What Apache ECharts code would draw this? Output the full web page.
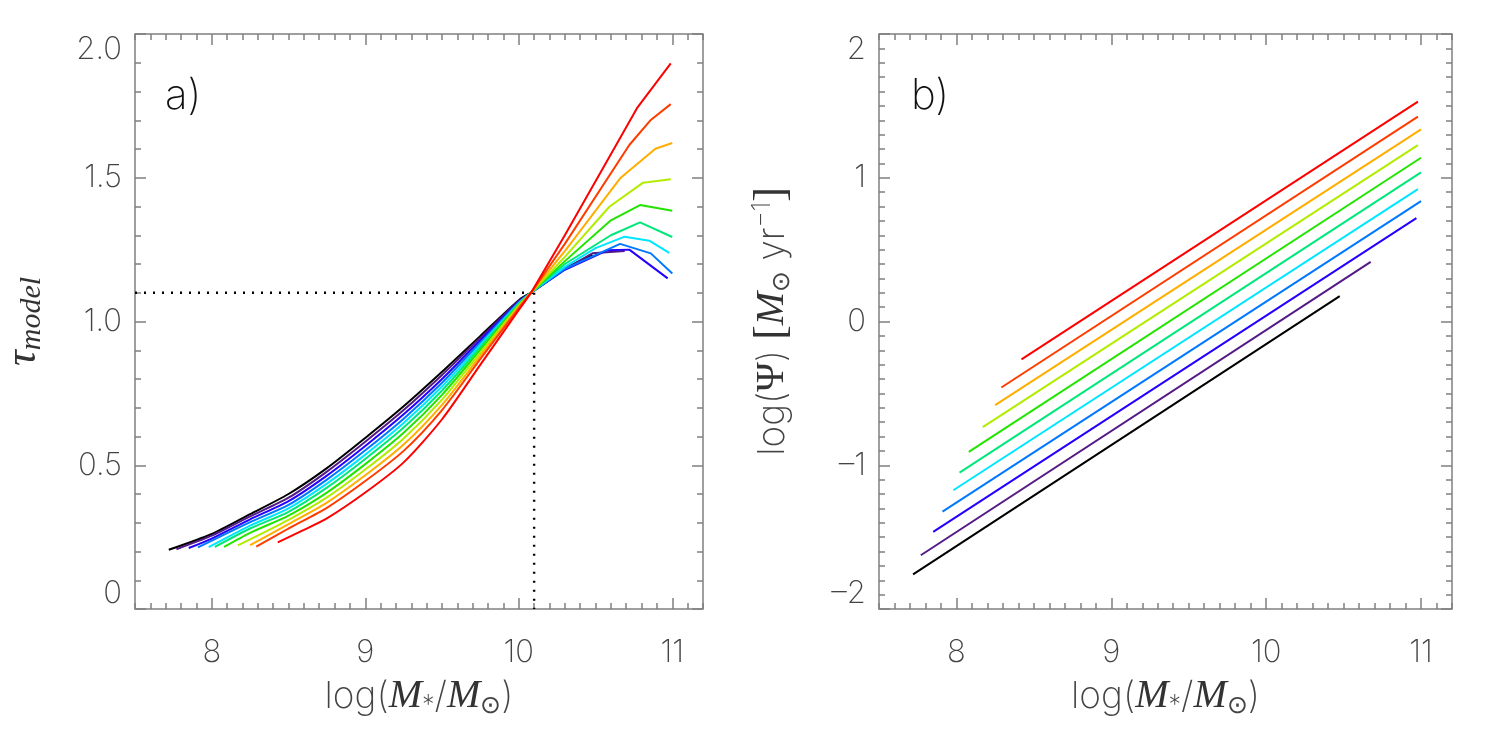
<!DOCTYPE html>
<html>
<head>
<meta charset="utf-8">
<script src="https://cdn.jsdelivr.net/npm/echarts@6/dist/echarts.min.js"></script>
<style>
  html, body { margin: 0; padding: 0; background: #fff; }
  #chart { width: 1495px; height: 747px; }
</style>
</head>
<body>
<div id="chart"></div>
<script>
// --- panel a: tau_model vs log(M*/Msun), one curve per model ---
var tauBlack = [[7.72,0.206],[8.0,0.261],[8.25,0.33],[8.5,0.40],[8.75,0.49],[9.0,0.595],[9.25,0.705],[9.5,0.825],[9.75,0.95],[10.0,1.074],[10.08,1.10],[10.3,1.185],[10.48,1.232]];
var tauPurple = [[7.77,0.208],[8.0,0.255],[8.25,0.322],[8.5,0.387],[8.75,0.478],[9.0,0.582],[9.25,0.692],[9.5,0.814],[9.75,0.943],[10.0,1.072],[10.08,1.10],[10.3,1.182],[10.48,1.237],[10.69,1.245]];
var tauBlue = [[7.85,0.212],[8.0,0.245],[8.25,0.312],[8.5,0.375],[8.75,0.464],[9.0,0.567],[9.25,0.677],[9.5,0.80],[9.75,0.935],[10.0,1.069],[10.08,1.10],[10.3,1.18],[10.58,1.248],[10.72,1.25],[10.97,1.15]];
var tauDodger = [[7.91,0.214],[8.25,0.302],[8.5,0.362],[8.75,0.45],[9.0,0.552],[9.25,0.662],[9.5,0.787],[9.75,0.927],[10.0,1.066],[10.08,1.10],[10.3,1.183],[10.66,1.27],[10.86,1.237],[11.0,1.167]];
var tauCyan = [[7.98,0.215],[8.25,0.29],[8.5,0.35],[8.75,0.436],[9.0,0.537],[9.25,0.647],[9.5,0.774],[9.75,0.919],[10.0,1.064],[10.08,1.10],[10.3,1.19],[10.5,1.255],[10.69,1.295],[10.85,1.281],[10.98,1.239]];
var tauSpring = [[8.02,0.216],[8.25,0.28],[8.5,0.338],[8.75,0.422],[9.0,0.522],[9.25,0.631],[9.5,0.76],[9.75,0.911],[10.0,1.061],[10.08,1.10],[10.3,1.20],[10.6,1.30],[10.79,1.345],[11.0,1.294]];
var tauGreen = [[8.08,0.216],[8.25,0.265],[8.5,0.325],[8.75,0.405],[9.0,0.504],[9.25,0.613],[9.5,0.745],[9.75,0.902],[10.0,1.058],[10.08,1.10],[10.3,1.21],[10.6,1.352],[10.79,1.405],[11.0,1.385]];
var tauYellowGreen = [[8.17,0.221],[8.5,0.31],[8.75,0.388],[9.0,0.485],[9.25,0.593],[9.5,0.728],[9.75,0.892],[10.0,1.055],[10.08,1.10],[10.3,1.225],[10.59,1.399],[10.81,1.483],[10.99,1.495]];
var tauOrange = [[8.25,0.222],[8.5,0.295],[8.75,0.37],[9.0,0.465],[9.25,0.572],[9.5,0.71],[9.75,0.881],[10.0,1.051],[10.08,1.10],[10.3,1.245],[10.66,1.498],[10.89,1.601],[11.0,1.621]];
var tauOrangeRed = [[8.29,0.217],[8.5,0.28],[8.75,0.352],[9.0,0.445],[9.25,0.55],[9.5,0.692],[9.75,0.87],[10.0,1.047],[10.08,1.10],[10.3,1.27],[10.72,1.614],[10.86,1.701],[10.99,1.756]];
var tauRed = [[8.43,0.232],[8.6,0.275],[8.75,0.315],[9.0,0.405],[9.25,0.51],[9.5,0.66],[9.75,0.85],[10.0,1.04],[10.08,1.10],[10.3,1.30],[10.55,1.535],[10.77,1.742],[10.99,1.898]];

// reference lines in panel a
var refMass = 10.1;
var refTau = 1.1;
var pivotMass = 10.08; // where the curves meet; smooth below, polyline above

// --- panel b: log(SFR) vs log(M*/Msun) ---
var sfrBlack = [[7.72,-1.759],[10.475,0.176]];
var sfrPurple = [[7.77,-1.626],[10.675,0.415]];
var sfrBlue = [[7.85,-1.464],[10.97,0.719]];
var sfrDodger = [[7.91,-1.322],[11.0,0.838]];
var sfrCyan = [[7.98,-1.174],[10.98,0.921]];
var sfrSpring = [[8.02,-1.051],[11.0,1.037]];
var sfrGreen = [[8.08,-0.907],[11.0,1.139]];
var sfrYellowGreen = [[8.17,-0.735],[10.98,1.227]];
var sfrOrange = [[8.25,-0.582],[11.0,1.336]];
var sfrOrangeRed = [[8.29,-0.459],[10.98,1.425]];
var sfrRed = [[8.42,-0.264],[10.98,1.529]];

var lineColors = ['#000000','#541a86','#2400ff','#0078ff','#00e6ff','#00e87a','#22e400','#b2ec00','#ffae00','#ff3c00','#ff0000'];
var tauCurves = [tauBlack, tauPurple, tauBlue, tauDodger, tauCyan, tauSpring, tauGreen, tauYellowGreen, tauOrange, tauOrangeRed, tauRed];
var sfrLines = [sfrBlack, sfrPurple, sfrBlue, sfrDodger, sfrCyan, sfrSpring, sfrGreen, sfrYellowGreen, sfrOrange, sfrOrangeRed, sfrRed];

var massTicks = [8, 9, 10, 11];

var chart = echarts.init(document.getElementById('chart'), null, { renderer: 'canvas' });

var frame = '#808080';
var textCol = '#444';
var sans = 'Inter, "DejaVu Sans", sans-serif';
var serif = 'Liberation Serif';

var richName = {
  n: { fontFamily: sans, fontWeight: 200, fontSize: 37, color: textCol },
  m: { fontFamily: serif, fontStyle: 'italic', fontSize: 40, color: '#333' },
  p: { fontFamily: serif, fontSize: 40, color: '#333' },
  b: { fontFamily: serif, fontSize: 44, color: '#333' },
  sub: { fontFamily: sans, fontWeight: 200, fontSize: 25, color: textCol, padding: [18, 0, 0, 0] },
  sup: { fontFamily: sans, fontWeight: 200, fontSize: 25, color: textCol, padding: [0, 0, 20, 0] },
  t: { fontFamily: serif, fontStyle: 'italic', fontSize: 44, color: '#333' },
  s: { fontFamily: serif, fontStyle: 'italic', fontSize: 30, color: '#333', padding: [18, 0, 0, 0] }
};

var tickLabel = { fontFamily: sans, fontWeight: 200, fontSize: 31, color: textCol };

function xAxes(gi) {
  var hidden = { show: false, onZero: false };
  return [
    { gridIndex: gi, type: 'value', position: 'bottom', min: 7.5, max: 11.2,
      axisLine: hidden, splitLine: { show: false },
      axisTick: { inside: true, length: 11, customValues: massTicks, lineStyle: { color: frame, width: 1.5 } },
      axisLabel: Object.assign({ customValues: massTicks, margin: 28 }, tickLabel),
      name: '{n|log(}{m|M}{sub|*}{n|/}{m|M}{sub|⊙}{n|)}',
      nameLocation: 'middle', nameGap: 66,
      nameTextStyle: { rich: richName } },
    { gridIndex: gi, type: 'value', position: 'bottom', min: 7.5, max: 11.2, interval: 0.1,
      axisLine: hidden, splitLine: { show: false }, axisLabel: { show: false },
      axisTick: { inside: true, length: 6, lineStyle: { color: frame, width: 1.5 } } },
    { gridIndex: gi, type: 'value', position: 'top', min: 7.5, max: 11.2,
      axisLine: hidden, splitLine: { show: false }, axisLabel: { show: false },
      axisTick: { inside: true, length: 11, customValues: massTicks, lineStyle: { color: frame, width: 1.5 } } },
    { gridIndex: gi, type: 'value', position: 'top', min: 7.5, max: 11.2, interval: 0.1,
      axisLine: hidden, splitLine: { show: false }, axisLabel: { show: false },
      axisTick: { inside: true, length: 6, lineStyle: { color: frame, width: 1.5 } } }
  ];
}

function yAxes(gi, min, max, major, fmt, name, gap) {
  var hidden = { show: false, onZero: false };
  return [
    { gridIndex: gi, type: 'value', position: 'left', min: min, max: max, interval: major,
      axisLine: hidden, splitLine: { show: false },
      axisTick: { inside: true, length: 11, lineStyle: { color: frame, width: 1.5 } },
      axisLabel: Object.assign({ margin: 13, formatter: fmt,
        verticalAlignMinLabel: 'bottom', verticalAlignMaxLabel: 'top' }, tickLabel),
      name: name, nameLocation: 'middle', nameGap: gap,
      nameTextStyle: { rich: richName } },
    { gridIndex: gi, type: 'value', position: 'left', min: min, max: max, interval: 0.1,
      axisLine: hidden, splitLine: { show: false }, axisLabel: { show: false },
      axisTick: { inside: true, length: 6, lineStyle: { color: frame, width: 1.5 } } },
    { gridIndex: gi, type: 'value', position: 'right', min: min, max: max, interval: major,
      axisLine: hidden, splitLine: { show: false }, axisLabel: { show: false },
      axisTick: { inside: true, length: 11, lineStyle: { color: frame, width: 1.5 } } },
    { gridIndex: gi, type: 'value', position: 'right', min: min, max: max, interval: 0.1,
      axisLine: hidden, splitLine: { show: false }, axisLabel: { show: false },
      axisTick: { inside: true, length: 6, lineStyle: { color: frame, width: 1.5 } } }
  ];
}

var series = [];
tauCurves.forEach(function(d, i) {
  var low = d.filter(function(p) { return p[0] <= pivotMass; });
  var high = d.filter(function(p) { return p[0] >= pivotMass; });
  series.push({ type: 'line', xAxisIndex: 0, yAxisIndex: 0, data: low, symbol: 'none',
    smooth: 0.25, lineStyle: { color: lineColors[i], width: 2 }, z: 3 + i });
  series.push({ type: 'line', xAxisIndex: 0, yAxisIndex: 0, data: high, symbol: 'none',
    lineStyle: { color: lineColors[i], width: 2 }, z: 3 + i });
});
// dotted guide lines
series.push({ type: 'line', xAxisIndex: 0, yAxisIndex: 0, data: [[7.5, refTau], [refMass, refTau]], symbol: 'none',
  lineStyle: { color: '#000', width: 2.4, type: [2, 7] }, z: 2 });
series.push({ type: 'line', xAxisIndex: 0, yAxisIndex: 0, data: [[refMass, refTau], [refMass, 0]], symbol: 'none',
  lineStyle: { color: '#000', width: 2.4, type: [2, 7] }, z: 2 });
sfrLines.forEach(function(d, i) {
  series.push({ type: 'line', xAxisIndex: 4, yAxisIndex: 4, data: d, symbol: 'none',
    lineStyle: { color: lineColors[i], width: 2 }, z: 3 + i });
});

chart.setOption({
  animation: false,
  backgroundColor: '#fff',
  title: [
    { text: 'a)', left: 160, top: 70, textStyle: { fontFamily: sans, fontWeight: 200, fontSize: 42, color: '#111' } },
    { text: 'b)', left: 906, top: 70, textStyle: { fontFamily: sans, fontWeight: 200, fontSize: 42, color: '#111' } }
  ],
  grid: [
    { left: 130, top: 34, width: 573, height: 575, show: true, borderColor: frame, borderWidth: 1.5, backgroundColor: 'transparent' },
    { left: 879, top: 34, width: 573, height: 575, show: true, borderColor: frame, borderWidth: 1.5, backgroundColor: 'transparent' }
  ],
  xAxis: xAxes(0).concat(xAxes(1)),
  yAxis: yAxes(0, 0, 2, 0.5, function(v) { return v === 0 ? '0' : v.toFixed(1); },
      '{t|τ}{s|model}', 88)
    .concat(yAxes(1, -2, 2, 1, function(v) { return v < 0 ? '\u2013' + Math.abs(v) : String(v); },
      '{n|log(}{p|Ψ}{n|)}   {b|[}{m|M}{sub|⊙}{n| yr}{sup|\u22121}{b|]}', 84)),
  series: series
});

window.addEventListener('resize', function() { chart.resize(); });
</script>
</body>
</html>
